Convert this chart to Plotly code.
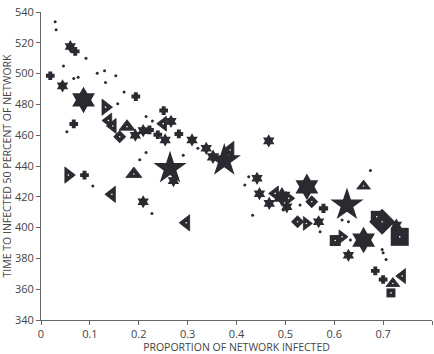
import plotly.graph_objects as go

COLOR = "#2a2a30"

# 5-pointed stars
star_x = [0.264, 0.375, 0.626]
star_y = [438.5, 443.5, 414.7]
star_s = [25, 25, 25]

# 6-pointed stars (hexagrams)
hex_x = [0.060, 0.044, 0.087, 0.193, 0.209, 0.266, 0.254, 0.309, 0.338, 0.352,
         0.271, 0.209, 0.466, 0.442, 0.447, 0.467, 0.493, 0.544, 0.503, 0.568,
         0.660, 0.629, 0.727]
hex_y = [517.6, 492.0, 482.9, 460.0, 463.0, 469.0, 456.9, 456.9, 451.5, 446.0,
         430.5, 416.8, 456.3, 432.0, 422.0, 415.7, 420.0, 426.5, 413.5, 403.8,
         391.9, 382.0, 401.6]
hex_s = [10, 10, 20, 10, 10, 10, 10, 10, 10, 11,
         10, 10, 10, 10, 10, 10, 15, 20, 10, 10,
         20, 10, 10]

# left-pointing triangles
tl_x = [0.145, 0.297, 0.387, 0.138, 0.147, 0.250, 0.479, 0.739]
tl_y = [421.6, 403.1, 450.4, 469.5, 466.0, 467.5, 422.2, 368.5]
tl_s = [14, 14, 15, 13, 13, 13, 13, 13]

# right-pointing triangles
tr_x = [0.132, 0.056, 0.543, 0.616, 0.507]
tr_y = [478.2, 434.1, 402.7, 394.0, 419.0]
tr_s = [14, 14, 12, 12, 12]

# upward triangles
tu_x = [0.176, 0.190, 0.660, 0.720]
tu_y = [465.5, 434.8, 427.0, 363.7]
tu_s = [14, 14, 12, 12]

# squares
sq_x = [0.602, 0.687, 0.734, 0.716]
sq_y = [391.6, 407.0, 394.0, 357.6]
sq_s = [11, 12, 18, 9]

# diamonds
di_x = [0.161, 0.554, 0.525, 0.698]
di_y = [459.0, 416.8, 403.8, 403.8]
di_s = [10, 10, 10, 20]

# crosses
cr_x = [0.019, 0.070, 0.067, 0.194, 0.089, 0.251, 0.222, 0.239, 0.282, 0.578,
        0.684, 0.700]
cr_y = [498.6, 514.4, 467.3, 485.1, 434.1, 476.0, 463.4, 460.3, 460.8, 412.5,
        371.9, 366.3]
cr_s = [6, 6, 6, 6, 6, 6, 6, 6, 6, 6.5, 6, 6]

# small dots
dot_x = [0.029, 0.031, 0.092, 0.046, 0.067, 0.076, 0.115, 0.130, 0.132, 0.153,
         0.170, 0.157, 0.053, 0.215, 0.228, 0.215, 0.202, 0.291, 0.106, 0.227,
         0.674, 0.417, 0.433, 0.496, 0.530, 0.571, 0.698, 0.700, 0.706, 0.321,
         0.629, 0.616, 0.633, 0.425]
dot_y = [533.7, 528.5, 510.0, 505.0, 496.8, 497.7, 500.3, 501.8, 494.2, 498.6,
         488.1, 480.5, 462.3, 472.1, 469.3, 448.7, 444.0, 447.0, 427.0, 409.2,
         437.0, 427.6, 408.1, 411.4, 414.6, 397.3, 385.8, 383.6, 379.3, 451.5,
         403.8, 404.9, 391.9, 433.0]

x_ticks = [0, 0.1, 0.2, 0.3, 0.4, 0.5, 0.6, 0.7, 0.8]
x_tick_text = ["0", "0.1", "0.2", "0.3", "0.4", "0.5", "0.6", "0.7", "0.8"]
y_ticks = [340, 360, 380, 400, 420, 440, 460, 480, 500, 520, 540]

fig = go.Figure()


def add(xs, ys, symbol, sizes, lw=0):
    fig.add_trace(go.Scatter(
        x=xs, y=ys, mode="markers", hoverinfo="skip",
        marker=dict(symbol=symbol, size=sizes, color=COLOR, opacity=1,
                    line=dict(width=lw, color=COLOR)),
    ))


add(dot_x, dot_y, "circle", 3)
add(cr_x, cr_y, "cross", cr_s, lw=1.5)
add(hex_x, hex_y, "hexagram", hex_s)
add(star_x, star_y, "star", star_s)
add(tl_x, tl_y, "triangle-left", tl_s, lw=0.8)
add(tr_x, tr_y, "triangle-right", tr_s, lw=0.8)
add(tu_x, tu_y, "triangle-up", tu_s, lw=0.8)
add(sq_x, sq_y, "square", sq_s)
add(di_x, di_y, "diamond", di_s)

# white centre dots on the dotted shapes
cx = tl_x + tr_x + tu_x + sq_x + di_x
cy = tl_y + tr_y + tu_y + sq_y + di_y
fig.add_trace(go.Scatter(
    x=cx, y=cy, mode="markers", hoverinfo="skip",
    marker=dict(symbol="circle", size=1.6, color="white", opacity=1,
                line=dict(width=0)),
))

axis_font = dict(family="Open Sans, Liberation Sans, sans-serif", size=11, color="#444444")

fig.update_layout(
    width=434, height=354,
    margin=dict(l=41, r=2, t=12, b=34),
    paper_bgcolor="white", plot_bgcolor="white",
    showlegend=False,
    font=axis_font,
    xaxis=dict(
        range=[0, 0.8], tickvals=x_ticks, ticktext=x_tick_text,
        showgrid=False, zeroline=False, showline=True, linecolor="#666666",
        linewidth=1, ticks="outside", ticklen=4, tickcolor="#666666",
        tickfont=axis_font,
        title=dict(text="PROPORTION OF NETWORK INFECTED",
                   font=dict(family=axis_font["family"], size=10.5, color="#444444"),
                   standoff=0),
    ),
    yaxis=dict(
        range=[340, 540], tickvals=y_ticks,
        showgrid=False, zeroline=False, showline=True, linecolor="#666666",
        linewidth=1, ticks="outside", ticklen=4, tickcolor="#666666",
        tickfont=axis_font,
        title=dict(text="TIME TO INFECTED 50 PERCENT OF NETWORK",
                   font=dict(family=axis_font["family"], size=10.5, color="#444444"),
                   standoff=2),
    ),
)

fig.write_html("out.html")
